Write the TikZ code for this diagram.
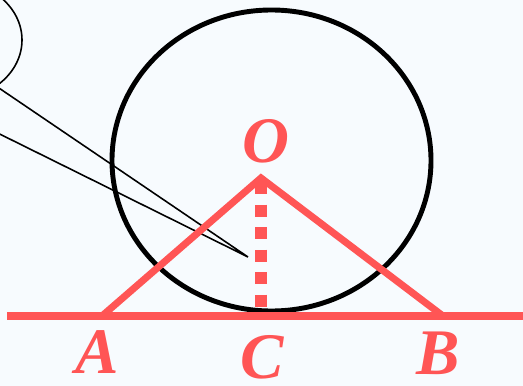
\documentclass[tikz,border=0pt]{standalone}
\usepackage{fontspec}
\setmainfont{Liberation Serif}
\usepackage{tikz}
\usetikzlibrary{shapes.geometric}
\definecolor{segred}{HTML}{FF5555}
\definecolor{paperbg}{HTML}{F7FBFE}

\begin{document}
\begin{tikzpicture}[
    x=0.2mm, y=-0.2mm,
    ptlabel/.style={text=segred, font=\fontsize{37pt}{40pt}\selectfont\bfseries\itshape,
                    inner sep=0pt},
    segline/.style={draw=segred, line width=4pt},
    altline/.style={draw=segred, line width=6.8pt, dash pattern=on 2.4mm off 2.1mm,
                    shorten <=0.8mm, shorten >=1.8mm},
    wheel/.style={draw=black, line width=2.8pt, ellipse, inner sep=0pt, outer sep=0pt,
                  minimum width=63.8mm, minimum height=60.2mm},
    bubble/.style={draw=black, line width=0.9pt, ellipse, inner sep=0pt, outer sep=0pt,
                   fill=paperbg, minimum width=28.8mm, minimum height=24mm},
    pointer/.style={draw=black, line width=0.9pt}
]

% --- frame and background ---
\fill[paperbg] (0,0) rectangle (523,386);
\useasboundingbox (0,0) rectangle (523,386);
\clip (0,0) rectangle (523,386);

% --- points ---
\coordinate (A) at (102,316);
\coordinate (B) at (443,316);
\coordinate (C) at (261,316);
\coordinate (O) at (261,178);
\coordinate (lft) at (7,316);
\coordinate (rgt) at (530,316);
\coordinate (tip) at (248,257);

% --- circle ---
\node[wheel] (circ) at (271.5,160.5) {};

% --- callout in the corner ---
\node[bubble] (note) at (-50,40) {};
\draw[pointer] (note.-45) -- (tip) -- (note.-119);

% --- tangent line, triangle and height ---
\draw[segline] (lft) -- (rgt);
\draw[segline] (A) -- (O) -- (B);
\draw[altline] (O) -- (C);

% --- labels ---
\node[ptlabel] (lO) at (266,141) {O};
\node[ptlabel] (lA) at (97,352)  {A};
\node[ptlabel] (lC) at (262,357) {C};
\node[ptlabel] (lB) at (438,353) {B};

\end{tikzpicture}
\end{document}
